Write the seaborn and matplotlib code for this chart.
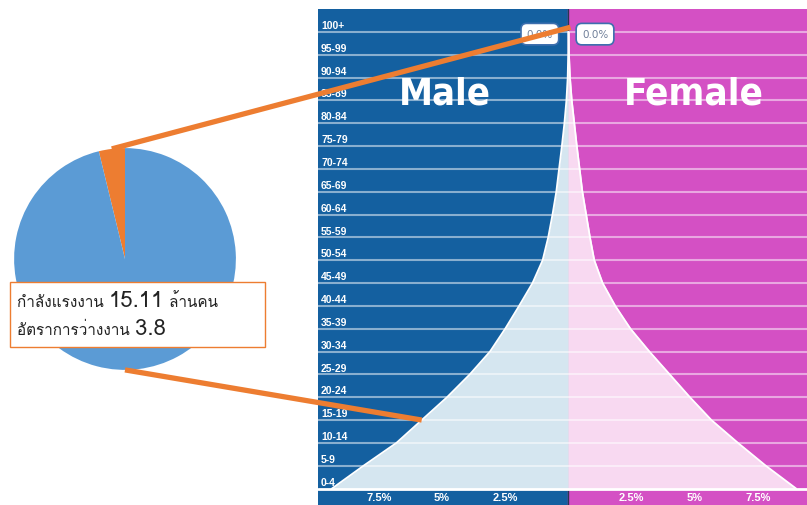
import numpy as np
import matplotlib.pyplot as plt
import seaborn as sns
from matplotlib import font_manager
from matplotlib.font_manager import FontProperties
from matplotlib.patches import ConnectionPatch, Rectangle
from fontTools.ttLib import TTFont

sns.set_theme(style='white')

# age groups, bottom to top
ages = ['0-4', '5-9', '10-14', '15-19', '20-24', '25-29', '30-34', '35-39',
        '40-44', '45-49', '50-54', '55-59', '60-64', '65-69', '70-74', '75-79',
        '80-84', '85-89', '90-94', '95-99', '100+']
# share of population (%)
male = [9.35, 8.1, 6.8, 5.8, 4.8, 3.9, 3.1, 2.5, 1.95, 1.42, 1.02,
        0.8, 0.63, 0.48, 0.37, 0.26, 0.16, 0.08, 0.03, 0.01, 0.0]
female = [9.0, 7.8, 6.7, 5.65, 4.8, 4.0, 3.2, 2.45, 1.85, 1.35, 1.02,
          0.85, 0.7, 0.55, 0.44, 0.33, 0.23, 0.13, 0.06, 0.02, 0.0]
xticks = [-7.5, -5, -2.5, 2.5, 5, 7.5]
xtick_labels = ['7.5%', '5%', '2.5%', '2.5%', '5%', '7.5%']
top_male_label = '0.0%'
top_female_label = '0.0%'

# labour force pie: unemployed vs employed
pie_values = [3.8, 96.2]
pie_colors = ['#ed7d31', '#5b9bd5']
labour_force = '15.11'
unemployment = '3.8'

male_bg, female_bg = '#1460a0', '#d450c4'
male_fill, female_fill = '#d5e6f0', '#f8d9f1'
orange = '#ed7d31'


def thai_family():
    # pick any installed font that has Thai glyphs
    for f in font_manager.fontManager.ttflist:
        try:
            cmap = TTFont(f.fname, fontNumber=0, lazy=True).getBestCmap()
        except Exception:
            continue
        if cmap and 0x0E01 in cmap:
            return f.name
    return 'DejaVu Sans'


def narrow_bold():
    # a condensed bold face for the big Male / Female titles, if there is one
    best = None
    for f in font_manager.fontManager.ttflist:
        narrow = ('Narrow' in f.name or 'Condensed' in f.name
                  or 'condensed' in str(f.stretch))
        try:
            w = int(f.weight)
        except ValueError:
            w = 700 if 'bold' in str(f.weight) else 400
        if narrow and w >= 600:
            return FontProperties(fname=f.fname)
        if narrow and best is None:
            best = FontProperties(fname=f.fname, weight='bold')
    return best or FontProperties(family='DejaVu Sans', weight='bold')


thai = thai_family()
plt.rcParams['font.family'] = [thai, 'DejaVu Sans']

fig = plt.figure(figsize=(8.07, 5.06), dpi=100)
renderer = fig.canvas.get_renderer()

# ---- population pyramid ----
ax = fig.add_axes([318 / 807, 0, 489 / 807, 496 / 506])
pos = np.arange(len(ages))
neg_male = -np.array(male)

ax.axvspan(-20, 0, color=male_bg, zorder=0)
ax.axvspan(0, 20, color=female_bg, zorder=0)
ax.axvline(0, color='#2b3552', lw=1, zorder=0.5)

ax.fill_betweenx(pos, neg_male, 0, fc=male_fill, ec=male_fill, lw=0.6, zorder=2)
ax.fill_betweenx(pos, 0, female, fc=female_fill, ec=female_fill, lw=0.6, zorder=2)
sns.lineplot(x=neg_male, y=pos, orient='y', sort=False, estimator=None,
             color='white', lw=1.3, ax=ax, zorder=3)
sns.lineplot(x=female, y=pos, orient='y', sort=False, estimator=None,
             color='white', lw=1.3, ax=ax, zorder=3)

for i in pos[1:]:
    ax.axhline(i, color='white', alpha=0.5, lw=1.5, zorder=2.5)
ax.axhline(0, color='white', lw=2, zorder=4)

for i, age in enumerate(ages):
    ax.text(-9.78, i + 0.3, age, color='white', fontsize=7.5, fontweight='bold',
            family='Liberation Sans', va='center', ha='left', zorder=5)

for x, lab in zip(xticks, xtick_labels):
    ax.text(x, -0.38, lab, color='white', fontsize=8, fontweight='bold',
            family='Liberation Sans', va='center', ha='center', zorder=5)

ax.set_xlim(-9.9, 9.43)
ax.set_ylim(-0.72, 21)
ax.axis('off')

title_font = narrow_bold()
for x, word, width_px in [(-4.88, 'Male', 92), (4.96, 'Female', 140)]:
    t = ax.text(x, 17.3, word, color='white', fontproperties=title_font,
                fontsize=40, ha='center', va='center', zorder=5)
    # shrink the title until it is as wide as in the picture
    w = t.get_window_extent(renderer).width
    t.set_fontsize(min(40, 40 * width_px / w))

tip = dict(boxstyle='round,pad=0.55', fc='white', ec='#3d6fae', lw=1.2)
ax.text(-1.13, 19.9, top_male_label, fontsize=7.5, color='#6f7f99', ha='center',
        va='center', bbox=tip, family='DejaVu Sans', zorder=6)
ax.text(1.05, 19.9, top_female_label, fontsize=7.5, color='#6f7f99', ha='center',
        va='center', bbox=tip, family='DejaVu Sans', zorder=6)

# ---- labour force pie ----
pax = fig.add_axes([13 / 807, (506 - 372) / 506, 224 / 807, 224 / 506])
wedges, _ = pax.pie(pie_values, colors=pie_colors, startangle=90,
                    wedgeprops=dict(linewidth=0))
pax.set_xlim(-1.01, 1.01)
pax.set_ylim(-1.01, 1.01)

box = Rectangle((10 / 807, (506 - 348) / 506), 255 / 807, 65 / 506,
                transform=fig.transFigure, fc='white', ec=orange, lw=1, zorder=2)
fig.add_artist(box)


def chain(prev, s, size):
    # put the next piece of text right after the previous one
    bb = prev.get_window_extent(renderer)
    return fig.text(bb.x1 / fig.bbox.width, prev.get_position()[1], s,
                    fontsize=size, va='baseline', color='#222222', zorder=3)


t = fig.text(17 / 807, (506 - 307) / 506, 'กำลังแรงงาน ', fontsize=11,
             va='baseline', color='#222222', zorder=3)
t = chain(t, labour_force, 16)
chain(t, ' ล้านคน', 11)
t = fig.text(17 / 807, (506 - 335) / 506, 'อัตราการว่างงาน ', fontsize=11,
             va='baseline', color='#222222', zorder=3)
chain(t, unemployment, 16)

# orange connector lines from the pie to the pyramid
mid = np.deg2rad((wedges[0].theta1 + wedges[0].theta2) / 2)
for a, b in [((np.cos(mid), np.sin(mid)), (0.08, 20.2)),
             ((0.0, -1.0), (-male[3], 3))]:
    con = ConnectionPatch(xyA=a, coordsA=pax.transData, xyB=b, coordsB=ax.transData,
                          color=orange, lw=3.8, capstyle='butt', zorder=5)
    fig.add_artist(con)

fig.savefig('out.png', dpi=100)
